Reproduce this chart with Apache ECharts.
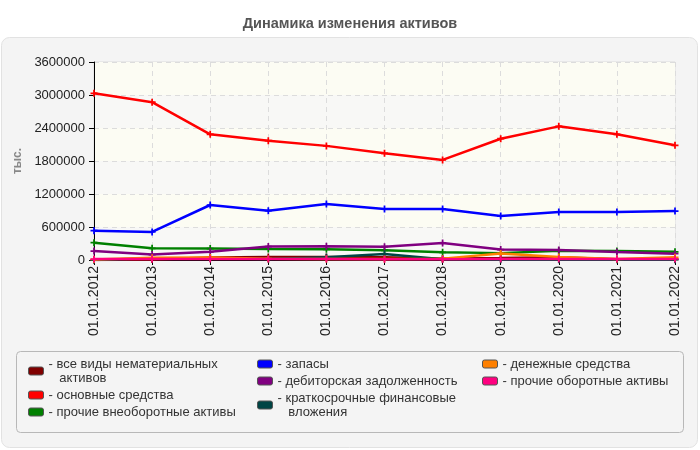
<!DOCTYPE html>
<html>
<head>
<meta charset="utf-8">
<script src="https://cdn.jsdelivr.net/npm/echarts@6/dist/echarts.min.js"></script>
<style>
  html, body { margin: 0; padding: 0; background: #fff; }
  #assets { width: 700px; height: 450px; }
</style>
</head>
<body>
<div id="assets"></div>
<script>
var years = ['01.01.2012', '01.01.2013', '01.01.2014', '01.01.2015', '01.01.2016', '01.01.2017',
             '01.01.2018', '01.01.2019', '01.01.2020', '01.01.2021', '01.01.2022'];

var seriesNames = ['все виды нематериальных активов', 'основные средства', 'прочие внеоборотные активы',
                   'запасы', 'дебиторская задолженность', 'краткосрочные финансовые вложения',
                   'денежные средства', 'прочие оборотные активы'];

var seriesColors = ['#800000', '#ff0000', '#008000', '#0000ff', '#800080', '#004545', '#ff8000', '#ff0080'];

// тыс.
var intangible  = [0, 10000, 45000, 55000, 55000, 50000, 25000, 35000, 50000, 15000, 10000];
var fixedAssets = [3030000, 2870000, 2285000, 2170000, 2075000, 1940000, 1820000, 2205000, 2430000, 2285000, 2085000];
var otherNonCur = [315000, 212000, 208000, 198000, 195000, 176000, 140000, 125000, 170000, 165000, 150000];
var inventory   = [533000, 510000, 1000000, 897000, 1020000, 927000, 927000, 800000, 873000, 873000, 890000];
var receivables = [162000, 100000, 150000, 245000, 250000, 242000, 310000, 190000, 183000, 145000, 115000];
var shortInvest = [0, 30000, 30000, 20000, 50000, 110000, 15000, 5000, 5000, 5000, 5000];
var cash        = [10000, 40000, 45000, 25000, 20000, 20000, 25000, 118000, 55000, 20000, 50000];
var otherCur    = [18000, 18000, 18000, 18000, 18000, 15000, 15000, 18000, 18000, 18000, 20000];

var allData = [intangible, fixedAssets, otherNonCur, inventory, receivables, shortInvest, cash, otherCur];

var legendCols = [
    [seriesNames[0], seriesNames[1], seriesNames[2]],
    [seriesNames[3], seriesNames[4], seriesNames[5]],
    [seriesNames[6], seriesNames[7]]
];
var legendLeft = [28, 257, 482];

// перенос длинных подписей легенды
var wrapped = {
    'все виды нематериальных активов': 'все виды нематериальных\n   активов',
    'краткосрочные финансовые вложения': 'краткосрочные финансовые\n   вложения'
};

var plusSymbol = 'path://M3,0H5V3H8V5H5V8H3V5H0V3H3Z';

var myChart = echarts.init(document.getElementById('assets'));

var series = allData.map(function (d, i) {
    return {
        name: seriesNames[i],
        type: 'line',
        data: d,
        symbol: plusSymbol,
        symbolSize: 7,
        showSymbol: true,
        itemStyle: { color: seriesColors[i] },
        lineStyle: { width: 2.5, color: seriesColors[i] },
        emphasis: { disabled: true },
        z: 3 + i
    };
});

var legends = legendCols.map(function (col, i) {
    return {
        data: col,
        orient: 'vertical',
        left: legendLeft[i],
        top: 357,
        padding: 0,
        itemGap: 3,
        itemWidth: 15,
        itemHeight: 8,
        icon: 'roundRect',
        itemStyle: { borderColor: '#555', borderWidth: 1 },
        selectedMode: false,
        textStyle: { fontFamily: 'Liberation Sans', fontSize: 13, color: '#333', lineHeight: 14 },
        formatter: function (name) {
            return '- ' + (wrapped[name] || name);
        }
    };
});

var option = {
    animation: false,
    textStyle: { fontFamily: 'Liberation Sans' },
    title: {
        text: 'Динамика изменения активов',
        left: 'center',
        top: 11,
        textStyle: { fontFamily: 'Liberation Sans', fontSize: 14.5, fontWeight: 'bold', color: '#555' }
    },
    graphic: [
        {
            type: 'rect', z: -20,
            shape: { x: 1.5, y: 37.5, width: 696, height: 410, r: 8 },
            style: { fill: '#f4f4f4', stroke: '#e2e2e2', lineWidth: 1 }
        },
        {
            type: 'rect', z: -19,
            shape: { x: 16.5, y: 351.5, width: 667, height: 81, r: 4 },
            style: { fill: '#f4f4f4', stroke: '#b8b8b8', lineWidth: 1 }
        }
    ],
    legend: legends,
    grid: {
        left: 94,
        right: 25,
        top: 62,
        bottom: 190,
        show: true,
        borderColor: '#dcdcdc',
        borderWidth: 1,
        backgroundColor: 'transparent'
    },
    xAxis: {
        type: 'category',
        data: years,
        boundaryGap: false,
        axisLine: { lineStyle: { color: '#000', width: 1 } },
        axisTick: { show: true, length: 5, lineStyle: { color: '#000' } },
        axisLabel: { rotate: 90, fontSize: 14, color: '#222', margin: 6 },
        splitLine: { show: true, lineStyle: { color: '#dcdcdc', type: [5, 4] } }
    },
    yAxis: {
        type: 'value',
        min: 0,
        max: 3600000,
        interval: 600000,
        name: 'тыс.',
        nameLocation: 'middle',
        nameGap: 66,
        nameTextStyle: { fontSize: 12, fontWeight: 'bold', color: '#888' },
        axisLine: { show: true, lineStyle: { color: '#000', width: 1 } },
        axisTick: { show: true, length: 5, lineStyle: { color: '#000' } },
        axisLabel: { fontSize: 13, color: '#222', margin: 9, formatter: function (v) { return String(v); } },
        splitLine: { show: true, lineStyle: { color: '#dcdcdc', type: [5, 4] } },
        splitArea: { show: true, areaStyle: { color: ['#f8f8f6', '#fcfcf3'] } }
    },
    series: series
};
myChart.setOption(option);
</script>
</body>
</html>
